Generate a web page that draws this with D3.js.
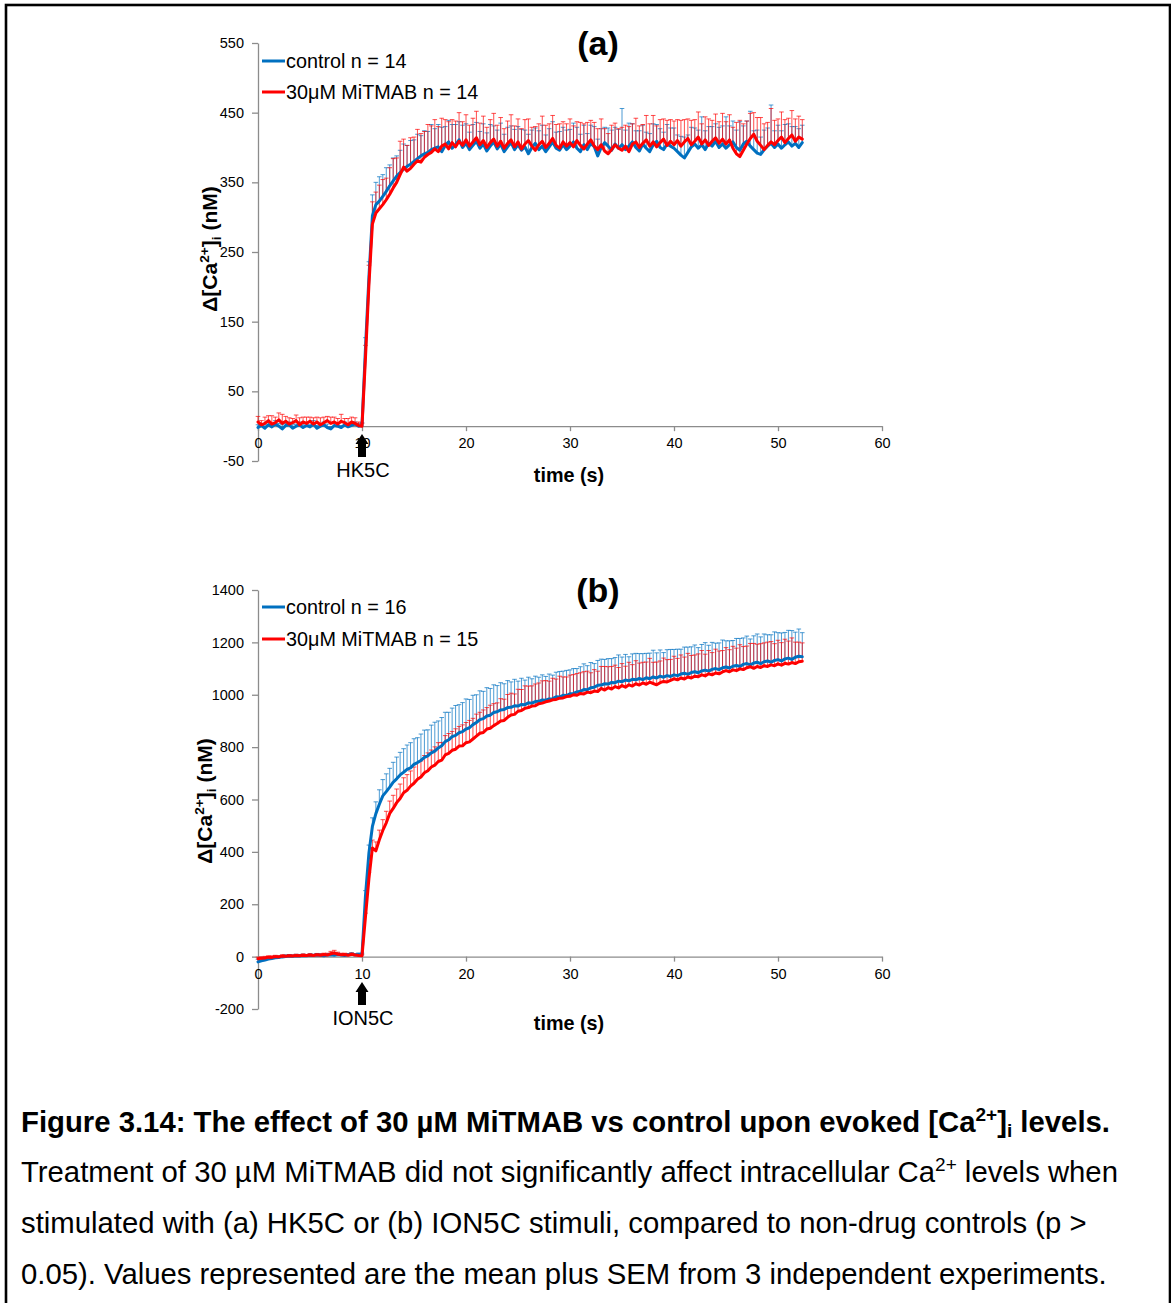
<!DOCTYPE html>
<html>
<head>
<meta charset="utf-8">
<script src="https://cdn.jsdelivr.net/npm/d3@7"></script>
<style>
  body { margin: 0; background: #fff; }
  svg { display: block; }
  text { font-family: Arial, "Liberation Sans", sans-serif; fill: #000; }
</style>
</head>
<body>
<svg id="fig" width="1171" height="1303"></svg>
<script>
// Frames were recorded every 1/3 s; sample k sits at k * SAMPLE_INTERVAL seconds.
const SAMPLE_INTERVAL = 1 / 3;

const timeTicks = [0, 10, 20, 30, 40, 50, 60];
const hkTicks = [-50, 50, 150, 250, 350, 450, 550];
const ionTicks = [-200, 0, 200, 400, 600, 800, 1000, 1200, 1400];

// (a) HK5C-evoked Δ[Ca2+]i, mean (nM)
const hkControl = [
  -2, 1, -3, 2, -1, 3, 0, -4, 1, 2, -3, 0, 2, -2, 1,
  -1, 3, -3, 0, 2, -2, -4, 1, 0, -2, 2, -1, 1, 3, 0,
  1, 112, 214, 302, 318, 323, 330, 337, 345, 352, 359, 364, 369, 373, 376,
  380, 384, 388, 391, 393, 397, 399, 401, 394, 403, 408, 399, 404, 411, 400,
  406, 397, 403, 409, 399, 405, 395, 402, 408, 398, 405, 394, 401, 407, 397,
  404, 396, 401, 391, 400, 406, 397, 402, 394, 401, 408, 399, 396, 404, 397,
  402, 408, 399, 394, 404, 397, 406, 401, 388, 400, 407, 402, 396, 405, 399,
  404, 397, 402, 408, 400, 395, 405, 399, 394, 404, 409, 400, 397, 405, 402,
  399, 394, 389, 385, 393, 401, 405, 399, 404, 397, 406, 402, 409, 400, 405,
  399, 404, 408, 400, 396, 405, 409, 402, 397, 392, 390, 397, 402, 406, 400,
  405, 399, 404, 408, 402, 406, 400, 407
];
const hkMitmab = [
  6, 2, 4, 8, 3, 5, 9, 4, 7, 3, 5, 8, 2, 6, 4,
  7, 3, 6, 2, 5, 8, 4, 6, 3, 7, 5, 2, 6, 4, 1,
  0, 98, 203, 290, 306, 312, 318, 325, 333, 342, 350, 361, 372, 366, 370,
  376, 381, 379, 386, 390, 393, 398, 394, 402, 405, 398, 407, 401, 409, 403,
  411, 402, 408, 414, 404, 410, 400, 407, 412, 402, 409, 399, 406, 411, 401,
  408, 398, 405, 410, 402, 396, 404, 409, 400, 406, 413, 403, 399, 408, 402,
  407, 401, 410, 403, 398, 405, 411, 402, 397, 404, 395, 391, 397, 404, 399,
  396, 402, 394, 405, 408, 400, 406, 411, 402, 408, 401, 407, 412, 403, 409,
  404, 410, 402, 408, 413, 404, 409, 415, 405, 411, 403, 409, 414, 406, 412,
  405, 411, 399, 391, 387, 396, 405, 413, 419, 409, 403, 397, 403, 408, 404,
  410, 415, 407, 413, 418, 409, 415, 412
];
// (a) SEM (nM)
const hkControlSem = [
  4, 3, 5, 4, 3, 5, 4, 6, 3, 4, 5, 3, 4, 5, 4,
  3, 5, 4, 3, 4, 5, 3, 4, 5, 3, 4, 4, 5, 3, 4,
  4, 15, 22, 30, 32, 35, 31, 34, 30, 33, 29, 32, 36, 30, 34,
  31, 35, 29, 33, 30, 36, 28, 32, 35, 27, 31, 34, 29, 26, 32,
  28, 25, 30, 27, 24, 29, 26, 31, 23, 27, 30, 25, 28, 24, 29,
  26, 30, 24, 28, 25, 22, 27, 30, 24, 26, 29, 23, 27, 25, 28,
  24, 27, 30, 25, 28, 23, 26, 29, 24, 27, 22, 26, 29, 24, 27,
  52, 28, 33, 26, 24, 29, 27, 23, 26, 30, 24, 27, 25, 28, 26,
  29, 24, 27, 30, 25, 28, 23, 26, 40, 27, 24, 28, 25, 29, 26,
  45, 27, 30, 25, 41, 26, 29, 50, 27, 33, 25, 28, 26, 55, 24,
  27, 25, 29, 26, 28, 24, 27, 25
];
const hkMitmabSem = [
  8, 6, 9, 7, 12, 8, 10, 13, 7, 9, 6, 8, 10, 7, 9,
  6, 9, 7, 10, 8, 6, 9, 7, 8, 10, 6, 9, 7, 8, 5,
  4, 18, 28, 32, 30, 34, 36, 31, 38, 42, 35, 48, 40, 37, 44,
  39, 45, 41, 37, 43, 38, 42, 36, 40, 35, 39, 33, 37, 41, 34,
  36, 30, 34, 38, 31, 35, 29, 33, 37, 30, 34, 28, 32, 36, 30,
  33, 29, 35, 31, 27, 34, 30, 36, 32, 28, 33, 30, 35, 29, 32,
  34, 30, 27, 33, 36, 31, 28, 34, 30, 37, 32, 29, 35, 31, 28,
  33, 30, 36, 29, 34, 31, 27, 35, 32, 38, 30, 33, 29, 36, 31,
  34, 30, 37, 32, 28, 35, 31, 36, 29, 33, 38, 30, 34, 31, 37,
  32, 36, 30, 45, 52, 38, 33, 36, 31, 34, 40, 37, 33, 48, 35,
  31, 36, 33, 29, 35, 32, 30, 28
];

// (b) ION5C-evoked Δ[Ca2+]i, mean (nM)
const ionControl = [
  -20, -16, -13, -9, -7, -4, -3, -1, 0, 2, 1, 3, 2, 4, 3,
  5, 4, 6, 5, 3, 6, 7, 5, 8, 6, 4, 7, 9, 6, 8,
  7, 232, 396, 497, 546, 582, 614, 630, 647, 666, 679, 694, 704, 715, 721,
  734, 741, 749, 761, 767, 778, 785, 797, 805, 821, 828, 840, 845, 855, 859,
  869, 874, 886, 894, 905, 909, 919, 922, 932, 935, 942, 944, 951, 952, 958,
  957, 963, 962, 969, 968, 974, 975, 980, 979, 984, 985, 992, 991, 998, 997,
  1004, 1005, 1011, 1013, 1020, 1019, 1027, 1029, 1036, 1037, 1042, 1041, 1047, 1046, 1052,
  1050, 1056, 1053, 1059, 1057, 1062, 1058, 1065, 1061, 1068, 1064, 1071, 1067, 1073, 1070,
  1076, 1073, 1079, 1082, 1078, 1085, 1088, 1084, 1091, 1094, 1090, 1097, 1100, 1096, 1103,
  1106, 1102, 1109, 1112, 1108, 1116, 1119, 1114, 1121, 1124, 1119, 1126, 1129, 1124, 1131,
  1134, 1129, 1137, 1140, 1135, 1143, 1147, 1145
];
const ionMitmab = [
  -8, -6, -5, -2, -3, 0, -1, 2, 1, 3, 2, 4, 3, 5, 4,
  6, 4, 7, 5, 8, 6, 11, 14, 9, 7, 8, 5, 9, 6, 4,
  3, 152, 298, 415, 404, 446, 482, 511, 547, 566, 588, 604, 626, 635, 651,
  662, 677, 686, 702, 710, 724, 731, 745, 750, 770, 776, 788, 792, 804, 805,
  817, 820, 831, 842, 853, 856, 869, 872, 882, 890, 900, 902, 914, 923, 925,
  937, 940, 948, 951, 957, 958, 966, 968, 973, 976, 981, 982, 987, 988, 993,
  994, 1000, 998, 1005, 1003, 1010, 1008, 1014, 1012, 1024, 1018, 1027, 1022, 1031, 1026,
  1035, 1029, 1038, 1033, 1042, 1037, 1045, 1040, 1048, 1043, 1038, 1046, 1051, 1049, 1055,
  1061, 1057, 1064, 1060, 1068, 1064, 1071, 1069, 1076, 1072, 1080, 1076, 1083, 1080, 1087,
  1092, 1088, 1095, 1092, 1099, 1096, 1103, 1107, 1101, 1108, 1104, 1111, 1108, 1114, 1111,
  1118, 1113, 1120, 1117, 1123, 1119, 1126, 1128
];
// (b) SEM (nM)
const ionControlSem = [
  10, 9, 8, 8, 7, 7, 6, 6, 7, 6, 5, 6, 5, 6, 5,
  6, 5, 6, 5, 6, 5, 6, 5, 6, 5, 6, 5, 6, 5, 6,
  6, 20, 30, 33, 45, 55, 62, 68, 72, 76, 83, 86, 90, 93, 96,
  98, 95, 101, 104, 99, 106, 110, 103, 108, 112, 105, 109, 114, 107, 111,
  115, 108, 112, 106, 110, 104, 108, 102, 106, 100, 104, 98, 103, 97, 101,
  95, 100, 94, 98, 93, 97, 92, 96, 91, 95, 90, 94, 98, 92, 96,
  91, 95, 89, 94, 98, 92, 96, 90, 95, 99, 93, 97, 91, 96, 100,
  94, 98, 92, 97, 101, 95, 99, 93, 98, 102, 96, 100, 94, 99, 103,
  97, 101, 95, 100, 104, 98, 102, 96, 101, 105, 99, 103, 97, 102, 106,
  100, 104, 98, 103, 107, 101, 105, 99, 104, 108, 102, 106, 100, 105, 109,
  103, 107, 101, 106, 110, 96, 104, 92
];
const ionMitmabSem = [
  6, 5, 6, 5, 6, 5, 4, 5, 4, 5, 4, 5, 4, 5, 4,
  5, 4, 5, 6, 5, 7, 9, 10, 8, 6, 5, 6, 5, 4, 5,
  4, 14, 24, 30, 34, 37, 41, 44, 47, 50, 52, 55, 57, 60, 58,
  62, 64, 61, 66, 68, 65, 70, 72, 68, 74, 76, 72, 78, 75, 80,
  77, 82, 79, 84, 80, 86, 82, 88, 84, 79, 85, 81, 87, 83, 78,
  84, 80, 86, 82, 77, 83, 79, 85, 81, 76, 82, 78, 84, 80, 75,
  81, 77, 83, 79, 85, 80, 76, 82, 78, 84, 90, 80, 86, 82, 78,
  84, 80, 86, 82, 88, 84, 79, 85, 91, 81, 87, 83, 89, 85, 80,
  86, 82, 88, 84, 90, 86, 81, 87, 93, 83, 89, 85, 91, 87, 82,
  88, 84, 90, 86, 92, 88, 83, 89, 95, 85, 91, 87, 93, 89, 84,
  90, 86, 92, 88, 94, 82, 75, 70
];

const seriesNames = ["control", "30μM MiTMAB"];
const hkCounts = [14, 14];
const ionCounts = [16, 15];

const BLUE = "#0070C0";
const RED = "#FF0000";
const AXIS = "#8c8c8c";
const FONT = "Arial, 'Liberation Sans', sans-serif";

const svg = d3.select("#fig");

// page frame
svg.append("rect")
  .attr("x", 6).attr("y", 5).attr("width", 1164).attr("height", 1320)
  .attr("fill", "none").attr("stroke", "#000").attr("stroke-width", 2.6);

const panels = [
  {
    label: "(a)", stimulus: "HK5C",
    control: hkControl, controlSem: hkControlSem,
    drug: hkMitmab, drugSem: hkMitmabSem, counts: hkCounts,
    yDomain: [-50, 550], yTicks: hkTicks,
    top: 43, bottom: 461, titleY: 55, legendY: [61, 92],
    yTitleX: 217, yTitleY: 249, timeY: 482,
    arrowTip: 434, stimY: 477
  },
  {
    label: "(b)", stimulus: "ION5C",
    control: ionControl, controlSem: ionControlSem,
    drug: ionMitmab, drugSem: ionMitmabSem, counts: ionCounts,
    yDomain: [-200, 1400], yTicks: ionTicks,
    top: 590, bottom: 1009, titleY: 602, legendY: [607, 639],
    yTitleX: 212, yTitleY: 801, timeY: 1030,
    arrowTip: 982, stimY: 1025
  }
];

function caLabel(sel, size) {
  sel.append("tspan").text("Δ[Ca");
  sel.append("tspan").attr("font-size", size * 0.65).attr("dy", -size * 0.38).text("2+");
  sel.append("tspan").attr("dy", size * 0.38).text("]");
  sel.append("tspan").attr("font-size", size * 0.65).attr("dy", size * 0.2).text("i");
  sel.append("tspan").attr("dy", -size * 0.2).text(" (nM)");
}

panels.forEach(p => {
  const g = svg.append("g");
  const x = d3.scaleLinear().domain([0, 60]).range([258, 882]);
  const y = d3.scaleLinear().domain(p.yDomain).range([p.bottom, p.top]);
  const plain = d => String(d);

  // y axis
  const ya = g.append("g").attr("transform", "translate(258,0)")
    .call(d3.axisLeft(y).tickValues(p.yTicks).tickFormat(plain).tickSize(6).tickPadding(8).tickSizeOuter(0));
  ya.select(".domain").attr("stroke", AXIS).attr("stroke-width", 1.3);
  ya.selectAll(".tick line").attr("stroke", AXIS).attr("stroke-width", 1.3);
  ya.selectAll(".tick text").attr("font-size", 14.5).attr("font-family", FONT).attr("fill", "#000");

  // x axis along zero
  const xa = g.append("g").attr("transform", `translate(0,${y(0)})`)
    .call(d3.axisBottom(x).tickValues(timeTicks).tickFormat(plain).tickSize(5).tickPadding(7).tickSizeOuter(0));
  xa.select(".domain").attr("stroke", AXIS).attr("stroke-width", 1.3);
  xa.selectAll(".tick line").attr("stroke", AXIS).attr("stroke-width", 1.3);
  xa.selectAll(".tick text").attr("font-size", 14.5).attr("font-family", FONT).attr("fill", "#000");

  const pts = (vals, sem) => vals.map((v, i) => ({ t: i * SAMPLE_INTERVAL, v, s: sem[i] }));
  const sets = [
    { data: pts(p.control, p.controlSem), color: BLUE },
    { data: pts(p.drug, p.drugSem), color: RED }
  ];

  // SEM bars (upper only)
  sets.forEach(s => {
    const eb = g.append("g").attr("stroke", s.color).attr("stroke-width", 1).attr("stroke-opacity", 0.7);
    eb.selectAll("line.v").data(s.data).join("line").attr("class", "v")
      .attr("x1", d => x(d.t)).attr("x2", d => x(d.t))
      .attr("y1", d => y(d.v)).attr("y2", d => y(d.v + d.s));
    eb.selectAll("line.c").data(s.data).join("line").attr("class", "c")
      .attr("x1", d => x(d.t) - 2.3).attr("x2", d => x(d.t) + 2.3)
      .attr("y1", d => y(d.v + d.s)).attr("y2", d => y(d.v + d.s));
  });

  // mean traces
  const line = d3.line().x(d => x(d.t)).y(d => y(d.v));
  sets.forEach(s => {
    g.append("path").datum(s.data).attr("d", line)
      .attr("fill", "none").attr("stroke", s.color).attr("stroke-width", 3)
      .attr("stroke-linejoin", "round").attr("stroke-linecap", "round");
  });

  // legend
  [BLUE, RED].forEach((c, i) => {
    const ly = p.legendY[i];
    g.append("line").attr("x1", 262).attr("x2", 285).attr("y1", ly).attr("y2", ly)
      .attr("stroke", c).attr("stroke-width", 3);
    g.append("text").attr("x", 286).attr("y", ly).attr("dy", "0.35em")
      .attr("font-size", 19.8).text(`${seriesNames[i]} n = ${p.counts[i]}`);
  });

  // panel letter
  g.append("text").attr("x", 598).attr("y", p.titleY).attr("text-anchor", "middle")
    .attr("font-size", 34).attr("font-weight", "bold").text(p.label);

  // axis titles
  g.append("text").attr("x", 569).attr("y", p.timeY).attr("text-anchor", "middle")
    .attr("font-size", 19.8).attr("font-weight", "bold").text("time (s)");
  const yt = g.append("text").attr("transform", `translate(${p.yTitleX},${p.yTitleY}) rotate(-90)`)
    .attr("text-anchor", "middle").attr("font-size", 21).attr("font-weight", "bold");
  caLabel(yt, 21);

  // stimulus arrow at t = 10 s
  const ax = x(10), tip = p.arrowTip;
  const arrow = d3.path();
  arrow.moveTo(ax, tip);
  arrow.lineTo(ax + 6.5, tip + 10);
  arrow.lineTo(ax + 4, tip + 10);
  arrow.lineTo(ax + 4, tip + 23);
  arrow.lineTo(ax - 4, tip + 23);
  arrow.lineTo(ax - 4, tip + 10);
  arrow.lineTo(ax - 6.5, tip + 10);
  arrow.closePath();
  g.append("path").attr("d", arrow.toString()).attr("fill", "#000");
  g.append("text").attr("x", ax + 1).attr("y", p.stimY).attr("text-anchor", "middle")
    .attr("font-size", 20).text(p.stimulus);
});

// figure caption
const cap = svg.append("g").attr("font-size", 29.3);
const l1 = cap.append("text").attr("x", 21).attr("y", 1132).attr("font-weight", "bold");
l1.append("tspan").text("Figure 3.14: The effect of 30 µM MiTMAB vs control upon evoked [Ca");
l1.append("tspan").attr("font-size", 19).attr("dy", -11).text("2+");
l1.append("tspan").attr("dy", 11).text("]");
l1.append("tspan").attr("font-size", 19).attr("dy", 5).text("i");
l1.append("tspan").attr("dy", -5).text(" levels.");

const l2 = cap.append("text").attr("x", 21).attr("y", 1182);
l2.append("tspan").text("Treatment of 30 µM MiTMAB did not significantly affect intracellular Ca");
l2.append("tspan").attr("font-size", 19).attr("dy", -11).text("2+");
l2.append("tspan").attr("dy", 11).text(" levels when");

cap.append("text").attr("x", 21).attr("y", 1233)
  .text("stimulated with (a) HK5C or (b) ION5C stimuli, compared to non-drug controls (p >");
cap.append("text").attr("x", 21).attr("y", 1284)
  .text("0.05). Values represented are the mean plus SEM from 3 independent experiments.");
</script>
</body>
</html>
